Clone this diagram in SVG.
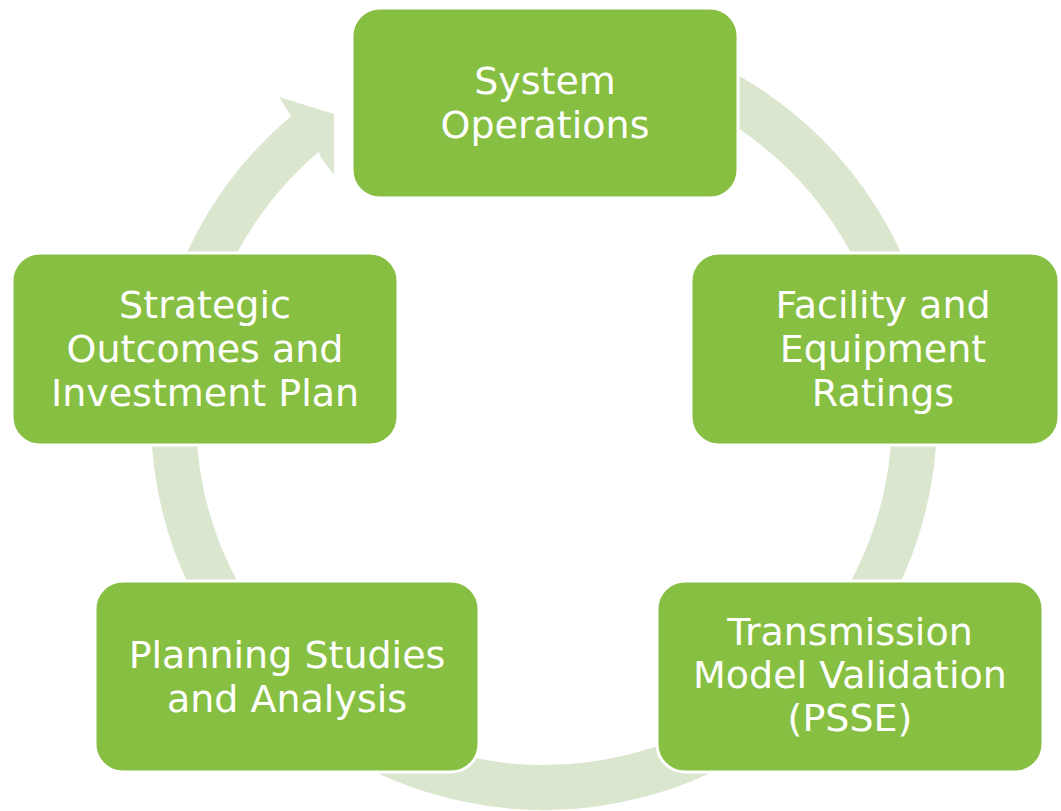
<svg xmlns="http://www.w3.org/2000/svg" width="1061" height="811" viewBox="0 0 1061 811">
<style>
.ring{fill:none;stroke:#DAE6CE;stroke-width:45;stroke-linecap:butt}
.head{fill:#DAE6CE}
.box{fill:#87BF42;stroke:#FFFFFF;stroke-width:3}
.lbl{fill:#FFFFFF;font-family:"DejaVu Sans","Liberation Sans",sans-serif;font-size:38px;text-anchor:middle}
</style>
<rect width="1061" height="811" fill="#FFFFFF"/>
<g id="connectors">
<path class="ring" d="M 608.3 52.1 A 370.5 370.5 0 1 1 305.8 133.2"/>
<polygon class="head" points="291,116 279,97 334,114 334,175 320,156 318,148"/>
</g>
<g id="node-system-operations">
<rect class="box" x="352" y="8" width="386" height="190" rx="28"/>
<text class="lbl" x="545" y="94">System</text>
<text class="lbl" x="545" y="138">Operations</text>
</g>
<g id="node-facility">
<rect class="box" x="691" y="253" width="368" height="192" rx="28"/>
<text class="lbl" x="883" y="318">Facility and</text>
<text class="lbl" x="883" y="362">Equipment</text>
<text class="lbl" x="883" y="406">Ratings</text>
</g>
<g id="node-transmission">
<rect class="box" x="657" y="581" width="386" height="191" rx="28"/>
<text class="lbl" x="850" y="645">Transmission</text>
<text class="lbl" x="850" y="688">Model Validation</text>
<text class="lbl" x="850" y="731">(PSSE)</text>
</g>
<g id="node-planning">
<rect class="box" x="95" y="581" width="384" height="191" rx="28"/>
<text class="lbl" x="287" y="668">Planning Studies</text>
<text class="lbl" x="287" y="712">and Analysis</text>
</g>
<g id="node-strategic">
<rect class="box" x="12" y="253" width="386" height="192" rx="28"/>
<text class="lbl" x="205" y="318">Strategic</text>
<text class="lbl" x="205" y="362">Outcomes and</text>
<text class="lbl" x="205" y="406">Investment Plan</text>
</g>
</svg>
